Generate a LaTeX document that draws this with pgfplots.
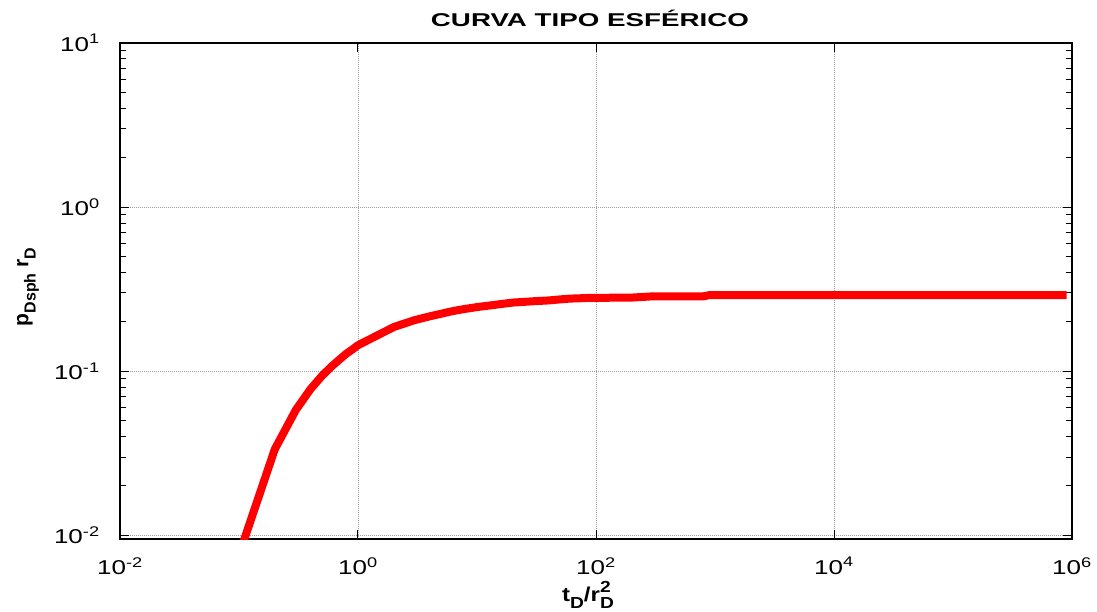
\documentclass[border=0pt]{standalone}
\usepackage{pgfplots}
\pgfplotsset{compat=1.18}
\usepackage{fontspec}
\setmainfont{Liberation Sans}
\usepackage{graphicx}
\newcommand{\tk}[1]{\scalebox{1.3}[1]{10\textsuperscript{#1}}}
\newcommand{\sub}[1]{\raisebox{-0.35em}{\fontsize{16}{18}\selectfont #1}}
\begin{document}
\begin{tikzpicture}
\begin{axis}[
  at={(0,0)}, anchor=south west,
  scale only axis, width=952pt, height=496pt,
  xmode=log, ymode=log,
  xmin=0.01, xmax=1e6, ymin=0.0095, ymax=10,
  xtick={0.01,1,100,10000,1000000},
  xticklabels={\tk{-2},\tk{0},\tk{2},\tk{4},\tk{6}},
  ytick={0.01,0.1,1,10},
  yticklabels={\tk{-2},\tk{-1},\tk{0},\tk{1}},
  xminorticks=false, yminorticks=true,
  tick align=inside, tick pos=both,
  major tick length=9pt, minor tick length=6pt,
  every tick/.style={black, line width=1pt},
  ticklabel style={font=\fontsize{20}{24}\selectfont},
  xticklabel style={anchor=center, yshift=-27pt},
  yticklabel style={anchor=east, inner sep=0pt, xshift=-20pt},
  xmajorgrids, ymajorgrids,
  major grid style={gray!75, line width=0.7pt, dash pattern=on 1pt off 1pt},
  axis line style={black, line width=1.4pt},
  clip=true,
]
\addplot[red, line width=8pt, line join=round] coordinates {
(0.1,0.0076) (0.2,0.0335) (0.3,0.058) (0.4,0.078) (0.5,0.094) (0.6,0.107)
(0.7,0.118) (0.8,0.128) (0.9,0.136) (1,0.144) (2,0.186) (3,0.205) (4,0.216)
(5,0.224) (6,0.231) (7,0.236) (8,0.240) (9,0.243) (10,0.246) (20,0.262)
(30,0.267) (40,0.270) (50,0.274) (60,0.277) (70,0.278) (80,0.279) (90,0.280)
(100,0.280) (200,0.281) (300,0.286) (400,0.286) (500,0.286) (600,0.286)
(700,0.286) (800,0.286) (900,0.291) (1000,0.291) (10000,0.291) (100000,0.291)
(900000,0.291)
};
\end{axis}
\node[font=\bfseries\fontsize{18.5}{22}\selectfont] at (470pt,521pt) {\scalebox{1.5}[1]{CURVA TIPO ESFÉRICO}};
\node[rotate=90, font=\bfseries\fontsize{21}{24}\selectfont] at (-92pt,252pt) {p\sub{Dsph} r\sub{D}};
\node[font=\bfseries\fontsize{20}{24}\selectfont] at (468pt,-56pt) {\scalebox{1.2}[1]{t\sub{D}/r\rlap{\raisebox{0.45em}{\fontsize{16}{18}\selectfont 2}}\sub{D}}};
\path[use as bounding box] (-120pt,-73pt) rectangle (977pt,539pt);
\end{tikzpicture}
\end{document}
